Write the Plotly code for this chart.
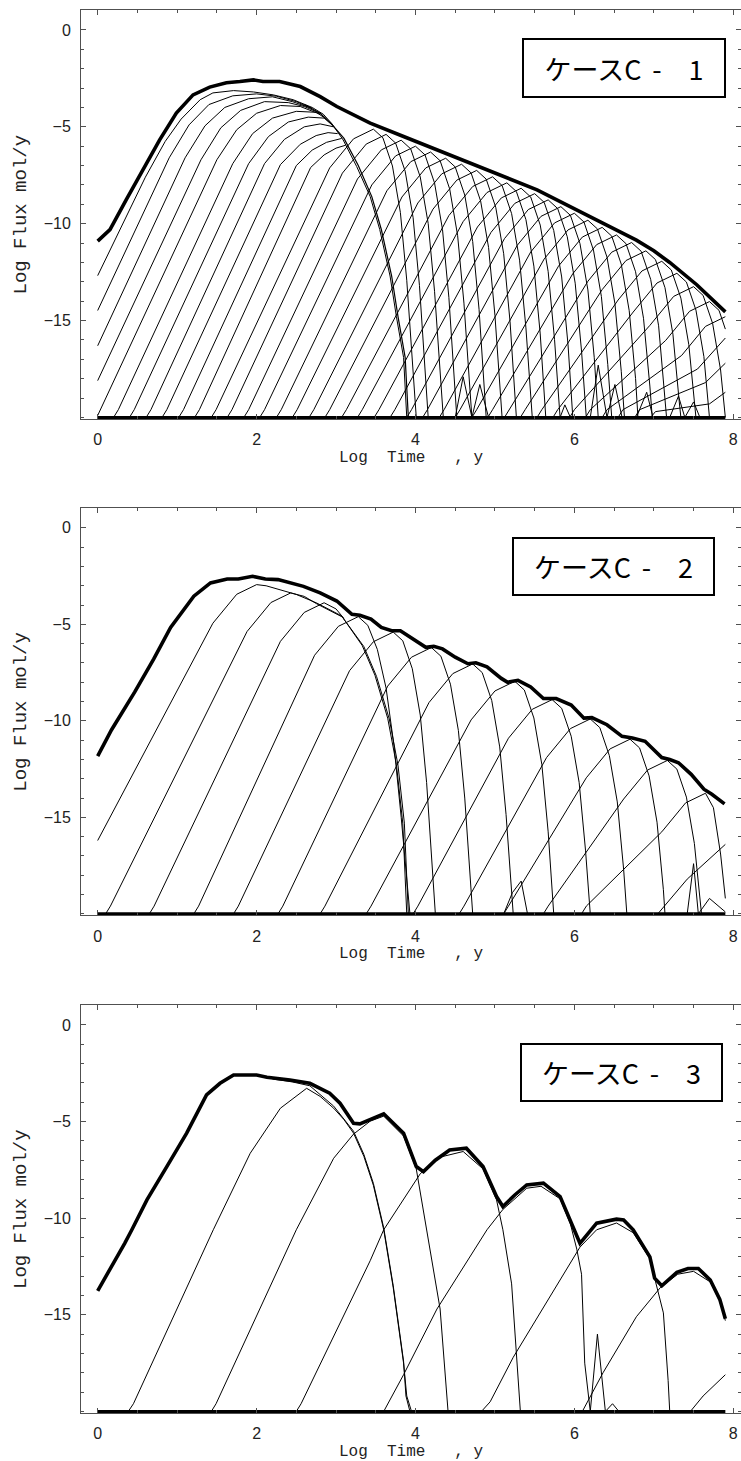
import plotly.graph_objects as go

# ---------------- Case C-1 ----------------
C1_TOTAL_X = [0, 0.155, 0.36, 0.57, 0.78, 0.99, 1.2, 1.41, 1.62, 1.79, 1.96, 2.08, 2.29, 2.55, 2.8, 3.01, 3.22,
              3.43, 3.85, 4.27, 4.69, 5.1, 5.53, 5.94, 6.36, 6.78, 7.0, 7.2, 7.54, 7.9]
C1_TOTAL_Y = [-10.9, -10.3, -8.76, -7.2, -5.67, -4.29, -3.35, -2.95, -2.72, -2.66, -2.58, -2.66, -2.66, -2.92,
              -3.44, -3.95, -4.38, -4.81, -5.5, -6.19, -6.87, -7.56, -8.25, -9.1, -9.97, -10.85, -11.4, -12.0,
              -13.15, -14.55]

C1_EARLY = [
    [(0, -12.68), (0.6, -7.6), (0.85, -5.75), (1.05, -4.6), (1.29, -3.6), (1.45, -3.25), (1.71, -3.13),
     (1.96, -3.2), (2.21, -3.35), (2.46, -3.6), (2.7, -4.0), (2.84, -4.35), (2.95, -4.85), (3.09, -5.68),
     (3.26, -7.05), (3.43, -8.6), (3.55, -10.3), (3.68, -12.7), (3.76, -14.8), (3.85, -16.9), (3.89, -20)],
    [(0, -14.48), (0.9, -6.6), (1.15, -4.9), (1.4, -3.85), (1.7, -3.4), (2.0, -3.3), (2.25, -3.42), (2.5, -3.7),
     (2.7, -4.05)],
    [(0, -16.3), (1.1, -6.6), (1.35, -4.95), (1.6, -4.0), (1.9, -3.55), (2.2, -3.45), (2.45, -3.7), (2.7, -4.05)],
    [(0, -18.1), (1.3, -6.7), (1.55, -5.05), (1.8, -4.15), (2.1, -3.7), (2.4, -3.75), (2.6, -3.95), (2.8, -4.3)],
    [(0, -19.9), (1.5, -6.7), (1.75, -5.15), (2.0, -4.3), (2.3, -3.9), (2.55, -3.95), (2.8, -4.35)],
    [(0.2, -20), (0.26, -19.6), (1.7, -6.9), (1.95, -5.35), (2.2, -4.55), (2.5, -4.2), (2.75, -4.25), (2.88, -4.6)],
    [(0.4, -20), (0.46, -19.6), (1.9, -6.9), (2.15, -5.5), (2.4, -4.75), (2.65, -4.5), (2.85, -4.55), (2.95, -4.9)],
    [(0.61, -20), (0.67, -19.6), (2.1, -6.9), (2.35, -5.65), (2.6, -5.0), (2.8, -4.85), (2.97, -5.0)],
    [(0.81, -20), (0.87, -19.6), (2.3, -6.95), (2.55, -5.9), (2.75, -5.45), (2.9, -5.3), (3.02, -5.35)],
    [(1.02, -20), (1.08, -19.6), (2.5, -7.0), (2.7, -6.2), (2.88, -5.8), (3.07, -5.6)],
    [(1.22, -20), (1.28, -19.6), (2.68, -7.1), (2.85, -6.45), (3.0, -6.1), (3.12, -5.95)],
]
C1_BUNDLE = [(2.6, -3.85), (2.8, -4.3), (2.93, -4.8), (3.1, -5.6), (3.28, -7.0), (3.45, -8.6), (3.57, -10.3),
             (3.7, -12.7), (3.78, -14.8), (3.87, -16.9), (3.91, -20)]

C1_MESH_A = [
    [(1.43, -20), (1.49, -19.6), (2.92, -7.12), (3.22, -5.62), (3.47, -5.12), (3.59, -5.57), (3.71, -7.02), (3.81, -9.42), (3.89, -12.92), (4.01, -20)],
    [(1.63, -20), (1.69, -19.6), (3.08, -7.39), (3.38, -5.89), (3.63, -5.39), (3.75, -5.84), (3.87, -7.29), (3.97, -9.69), (4.05, -13.19), (4.16, -20)],
    [(1.84, -20), (1.90, -19.6), (3.27, -7.69), (3.57, -6.19), (3.82, -5.69), (3.94, -6.14), (4.06, -7.59), (4.16, -9.99), (4.24, -13.49), (4.35, -20)],
    [(2.04, -20), (2.10, -19.6), (3.45, -8.0), (3.75, -6.5), (4.0, -6.0), (4.12, -6.45), (4.24, -7.9), (4.34, -10.3), (4.42, -13.8), (4.52, -20)],
    [(2.25, -20), (2.31, -19.6), (3.64, -8.3), (3.94, -6.8), (4.19, -6.3), (4.31, -6.75), (4.43, -8.2), (4.53, -10.6), (4.61, -14.1), (4.71, -20)],
    [(2.45, -20), (2.51, -19.6), (3.83, -8.62), (4.13, -7.12), (4.38, -6.62), (4.50, -7.07), (4.62, -8.52), (4.72, -10.92), (4.80, -14.42), (4.89, -20)],
    [(2.66, -20), (2.72, -19.6), (4.03, -8.93), (4.33, -7.43), (4.58, -6.93), (4.70, -7.38), (4.82, -8.83), (4.92, -11.23), (5.0, -14.73), (5.09, -20)],
    [(2.86, -20), (2.92, -19.6), (4.22, -9.25), (4.52, -7.75), (4.77, -7.25), (4.89, -7.7), (5.01, -9.15), (5.11, -11.55), (5.19, -15.05), (5.27, -20)],
    [(3.07, -20), (3.13, -19.6), (4.42, -9.58), (4.72, -8.08), (4.97, -7.58), (5.09, -8.03), (5.21, -9.48), (5.31, -11.88), (5.39, -15.38), (5.47, -20)],
    [(3.27, -20), (3.33, -19.6), (4.6, -9.89), (4.9, -8.39), (5.15, -7.89), (5.27, -8.34), (5.39, -9.79), (5.49, -12.19), (5.57, -15.69), (5.64, -20)],
    [(3.48, -20), (3.54, -19.6), (4.78, -10.17), (5.08, -8.67), (5.33, -8.17), (5.45, -8.62), (5.57, -10.07), (5.67, -12.47), (5.75, -15.97), (5.82, -20)],
    [(3.68, -20), (3.74, -19.6), (4.95, -10.45), (5.25, -8.95), (5.5, -8.45), (5.62, -8.9), (5.74, -10.35), (5.84, -12.75), (5.92, -16.25), (5.98, -20)],
]
C1_MESH_B = [
    [(3.89, -20), (3.95, -19.6), (5.12, -10.77), (5.42, -9.27), (5.67, -8.77), (5.79, -9.22), (5.91, -10.67), (6.01, -13.07), (6.09, -16.57), (6.15, -20)],
    [(4.09, -20), (4.15, -19.6), (5.28, -11.12), (5.58, -9.62), (5.83, -9.12), (5.95, -9.57), (6.07, -11.02), (6.17, -13.42), (6.25, -16.92), (6.30, -20)],
    [(4.3, -20), (4.36, -19.6), (5.45, -11.46), (5.75, -9.96), (6.0, -9.46), (6.12, -9.91), (6.24, -11.36), (6.34, -13.76), (6.42, -17.26), (6.47, -20)],
    [(4.5, -20), (4.56, -19.6), (5.62, -11.82), (5.92, -10.32), (6.17, -9.82), (6.29, -10.27), (6.41, -11.72), (6.51, -14.12), (6.59, -17.62), (6.63, -20)],
    [(4.71, -20), (4.77, -19.6), (5.8, -12.19), (6.1, -10.69), (6.35, -10.19), (6.47, -10.64), (6.59, -12.09), (6.69, -14.49), (6.77, -17.99), (6.80, -20)],
    [(4.91, -20), (4.97, -19.6), (5.98, -12.58), (6.28, -11.08), (6.53, -10.58), (6.65, -11.03), (6.77, -12.48), (6.87, -14.88), (6.95, -18.38), (6.98, -20)],
    [(5.12, -20), (5.18, -19.6), (6.17, -12.97), (6.47, -11.47), (6.72, -10.97), (6.84, -11.42), (6.96, -12.87), (7.06, -15.27), (7.14, -18.77), (7.16, -20)],
    [(5.32, -20), (5.38, -19.6), (6.35, -13.4), (6.65, -11.9), (6.9, -11.4), (7.02, -11.85), (7.14, -13.3), (7.24, -15.7), (7.32, -19.2), (7.34, -20)],
    [(5.53, -20), (5.59, -19.6), (6.55, -13.94), (6.85, -12.44), (7.1, -11.94), (7.22, -12.39), (7.34, -13.84), (7.44, -16.24), (7.53, -20)],
    [(5.73, -20), (5.79, -19.6), (6.74, -14.56), (7.04, -13.06), (7.29, -12.56), (7.41, -13.01), (7.53, -14.46), (7.63, -16.86), (7.70, -20)],
    [(5.94, -20), (6.0, -19.6), (6.95, -15.25), (7.25, -13.75), (7.5, -13.25), (7.62, -13.7), (7.74, -15.15), (7.84, -17.55), (7.9, -20)],
    [(6.14, -20), (6.2, -19.6), (7.15, -16.02), (7.45, -14.52), (7.7, -14.02), (7.82, -14.47), (7.9, -15.44)],
    [(6.35, -20), (6.41, -19.6), (7.35, -16.8), (7.65, -15.3), (7.9, -14.8)],
    [(6.55, -20), (6.61, -19.6), (7.55, -17.5), (7.9, -15.9)],
    [(6.76, -20), (6.82, -19.6), (7.65, -18.2), (7.9, -17.2)],
    [(6.96, -20), (7.02, -19.7), (7.7, -19.3), (7.9, -18.7)],
]
C1_SPIKES = [
    [(4.5, -20), (4.6, -17.9), (4.71, -20)], [(4.71, -20), (4.81, -18.3), (4.92, -20)],
    [(5.82, -20), (5.88, -19.35), (5.95, -20)], [(6.2, -20), (6.3, -17.3), (6.41, -20)],
    [(6.41, -20), (6.51, -18.3), (6.6, -20)], [(6.78, -20), (6.91, -18.7), (6.99, -20)],
    [(7.2, -20), (7.31, -18.9), (7.39, -20)], [(7.39, -20), (7.5, -19.2), (7.58, -20)],
]

# ---------------- Case C-2 ----------------
C2_TOTAL_X = [0, 0.175, 0.467, 0.706, 0.918, 1.21, 1.42, 1.63, 1.77, 1.95, 2.11, 2.27, 2.59, 2.8, 3.01, 3.2, 3.3,
              3.44, 3.57, 3.7, 3.81, 3.97, 4.13, 4.23, 4.34, 4.5, 4.66, 4.76, 4.9, 5.08, 5.16, 5.29, 5.45, 5.61,
              5.77, 5.96, 6.12, 6.22, 6.41, 6.6, 6.73, 6.89, 7.1, 7.2, 7.31, 7.47, 7.63, 7.73, 7.89]
C2_TOTAL_Y = [-11.83, -10.46, -8.5, -6.79, -5.16, -3.54, -2.85, -2.65, -2.65, -2.51, -2.65, -2.68, -3.03, -3.37,
              -3.79, -4.48, -4.53, -4.73, -5.16, -5.33, -5.33, -5.76, -6.19, -6.14, -6.27, -6.7, -7.04, -6.99,
              -7.2, -7.8, -8.0, -7.9, -8.24, -8.84, -8.84, -9.18, -9.86, -9.83, -10.2, -10.8, -10.89, -11.06,
              -11.9, -12.0, -12.17, -12.77, -13.54, -13.8, -14.3]

C2_CURVES = [
    [(0, -16.2), (1.45, -4.94), (1.75, -3.44), (2.0, -2.94), (2.12, -3.0), (2.3, -3.2), (2.5, -3.45), (2.75, -3.88),
     (3.07, -4.56), (3.33, -6.1), (3.49, -7.64), (3.65, -9.86), (3.76, -12.26), (3.84, -15.3), (3.89, -20)],
    [(0.1, -20), (0.16, -19.6), (1.88, -5.37), (2.18, -3.87), (2.43, -3.37), (2.6, -3.55), (2.75, -3.92),
     (3.08, -4.62), (3.35, -6.15), (3.51, -7.7), (3.67, -9.9), (3.78, -12.3), (3.86, -15.3), (3.91, -20)],
    [(0.65, -20), (0.71, -19.6), (2.3, -5.88), (2.6, -4.38), (2.85, -3.88), (3.0, -4.2), (3.1, -4.7)],
    [(1.21, -20), (1.27, -19.6), (2.73, -6.6), (3.03, -5.1), (3.28, -4.6), (3.4, -5.05), (3.52, -6.3), (3.63, -8.3),
     (3.73, -11.3), (3.82, -15), (3.93, -20)],
    [(1.71, -20), (1.77, -19.6), (3.17, -7.4), (3.47, -5.9), (3.72, -5.4), (3.84, -5.85), (3.96, -7.3), (4.06, -9.7), (4.14, -13.2), (4.25, -20)],
    [(2.27, -20), (2.33, -19.6), (3.65, -8.2), (3.95, -6.7), (4.2, -6.2), (4.32, -6.65), (4.44, -8.1), (4.54, -10.5), (4.62, -14.0), (4.72, -20)],
    [(2.8, -20), (2.86, -19.6), (4.17, -9.05), (4.47, -7.55), (4.72, -7.05), (4.84, -7.5), (4.96, -8.95), (5.06, -11.35), (5.14, -14.85), (5.23, -20)],
    [(3.38, -20), (3.44, -19.6), (4.7, -9.95), (5.0, -8.45), (5.25, -7.95), (5.37, -8.4), (5.49, -9.85), (5.59, -12.25), (5.67, -15.75), (5.74, -20)],
    [(3.97, -20), (4.03, -19.6), (5.17, -10.9), (5.47, -9.4), (5.72, -8.9), (5.84, -9.35), (5.96, -10.8), (6.06, -13.2), (6.14, -16.7), (6.2, -20)],
    [(4.55, -20), (4.61, -19.6), (5.65, -11.9), (5.95, -10.4), (6.2, -9.9), (6.32, -10.35), (6.44, -11.8), (6.54, -14.2), (6.62, -17.7), (6.66, -20)],
    [(5.11, -20), (5.17, -19.6), (6.15, -12.95), (6.45, -11.45), (6.7, -10.95), (6.82, -11.4), (6.94, -12.85), (7.04, -15.25), (7.12, -18.75), (7.14, -20)],
    [(5.61, -20), (5.67, -19.6), (6.62, -14.05), (6.92, -12.55), (7.17, -12.05), (7.29, -12.5), (7.41, -13.95), (7.51, -16.35), (7.6, -20)],
    [(6.09, -20), (6.15, -19.6), (7.1, -15.75), (7.4, -14.25), (7.65, -13.75), (7.75, -14.5), (7.84, -16.9), (7.9, -19.2)],
    [(7.05, -20), (7.42, -18.2), (7.9, -16.4)],
]
C2_SPIKES = [
    [(5.11, -20), (5.22, -18.9), (5.33, -18.3), (5.41, -20)],
    [(7.42, -20), (7.5, -17.4), (7.56, -20)],
    [(7.56, -20), (7.7, -19.2), (7.9, -19.9)],
]

# ---------------- Case C-3 ----------------
C3_TOTAL_X = [0, 0.155, 0.34, 0.43, 0.62, 0.87, 1.12, 1.37, 1.54, 1.71, 2.0, 2.13, 2.25, 2.42, 2.67, 2.92, 3.05,
              3.22, 3.3, 3.43, 3.6, 3.85, 4.01, 4.1, 4.25, 4.43, 4.64, 4.85, 5.02, 5.1, 5.25, 5.4, 5.61, 5.82,
              5.99, 6.07, 6.28, 6.53, 6.62, 6.74, 6.95, 7.01, 7.1, 7.29, 7.43, 7.56, 7.71, 7.83, 7.9]
C3_TOTAL_Y = [-13.76, -12.67, -11.3, -10.6, -9.05, -7.33, -5.6, -3.62, -3.02, -2.59, -2.59, -2.71, -2.76, -2.85,
              -3.02, -3.53, -4.05, -5.09, -5.12, -4.91, -4.6, -5.6, -7.33, -7.59, -7.0, -6.47, -6.38, -7.33,
              -8.88, -9.4, -8.8, -8.28, -8.19, -8.88, -10.6, -11.3, -10.26, -10.05, -10.09, -10.6, -12.0, -13.1,
              -13.5, -12.8, -12.6, -12.6, -13.2, -14.2, -15.2]

C3_CURVES = [
    [(2.2, -2.8), (2.45, -2.95), (2.67, -3.15), (2.97, -4.2), (3.22, -5.5), (3.35, -6.7), (3.47, -8.2),
     (3.6, -10.5), (3.72, -13.5), (3.8, -15.9), (3.85, -17.4), (3.88, -19.2), (3.93, -20)],
    [(0.385, -20), (0.45, -19.6), (1.455, -10.6), (1.92, -6.64), (2.3, -4.31), (2.63, -3.28), (2.8, -3.7),
     (2.97, -4.31), (3.1, -4.9), (3.22, -5.6), (3.35, -6.8), (3.47, -8.3), (3.6, -10.6), (3.72, -13.6),
     (3.8, -16.0), (3.85, -17.5), (3.89, -19.2), (3.95, -20)],
    [(1.43, -20), (1.49, -19.6), (2.5, -10.6), (2.97, -6.9), (3.22, -5.65), (3.43, -4.98), (3.6, -4.72),
     (3.85, -5.75), (4.01, -7.45), (4.14, -10.6), (4.31, -14.7), (4.41, -20)],
    [(2.5, -20), (2.56, -19.6), (3.43, -12.2), (3.6, -10.6), (4.06, -7.7), (4.3, -6.85), (4.6, -6.55),
     (4.85, -7.45), (5.02, -9.05), (5.1, -10.6), (5.21, -13.4), (5.25, -15.8), (5.32, -20)],
    [(3.6, -20), (3.85, -18.1), (4.27, -14.7), (4.9, -10.6), (5.1, -9.55), (5.4, -8.45), (5.58, -8.35),
     (5.82, -9.0), (5.95, -10.3), (6.03, -11.6), (6.09, -12.9), (6.13, -17.5), (6.2, -20)],
    [(4.83, -20), (4.94, -19.5), (5.23, -17.2), (5.82, -13.2), (6.07, -11.5), (6.28, -10.6), (6.53, -10.25),
     (6.74, -10.75), (6.95, -12.1), (7.01, -13.1), (7.12, -14.9), (7.18, -18.4), (7.2, -20)],
    [(6.1, -20), (6.36, -18.0), (6.78, -15.1), (7.08, -13.6), (7.3, -12.9), (7.5, -12.75), (7.71, -13.3),
     (7.83, -14.3), (7.9, -15.3)],
    [(7.46, -20), (7.62, -19.2), (7.9, -18.1)],
]
C3_SPIKES = [
    [(6.2, -20), (6.29, -16.0), (6.39, -20)],
    [(6.39, -20), (6.48, -19.6), (6.56, -20)],
]

FLOOR_X = [0, 7.9]
FLOOR_Y = [-20, -20]

X_TICKS = [0, 2, 4, 6, 8]
Y_TICKS = [0, -5, -10, -15]
CASE_LABELS = ["ケースC\u2009\u2009-\u30001", "ケースC\u2009\u2009-\u30002", "ケースC\u2009\u2009-\u30003"]

W, H = 741, 1461
PANELS_PX = [(10, 419), (508, 915.4), (1005, 1413)]   # top / bottom pixel rows of each frame
BOX_PX = [(522, 726, 38, 98), (512, 715, 537, 596), (520, 723, 1043, 1102)]


def flat(curves):
    xs, ys = [], []
    for c in curves:
        xs += [p[0] for p in c] + [None]
        ys += [p[1] for p in c] + [None]
    return xs, ys


fig = go.Figure()

panels = [
    (C1_TOTAL_X, C1_TOTAL_Y, C1_EARLY + C1_MESH_A + C1_MESH_B + C1_SPIKES, [C1_BUNDLE]),
    (C2_TOTAL_X, C2_TOTAL_Y, C2_CURVES + C2_SPIKES, []),
    (C3_TOTAL_X, C3_TOTAL_Y, C3_CURVES + C3_SPIKES, []),
]

for i, (tx, ty, thin, bundle) in enumerate(panels):
    sfx = "" if i == 0 else str(i + 1)
    xr, yr = "x" + sfx, "y" + sfx
    xs, ys = flat(thin)
    fig.add_trace(go.Scatter(x=xs, y=ys, mode="lines", line=dict(color="black", width=1.0),
                             xaxis=xr, yaxis=yr, showlegend=False, hoverinfo="skip"))
    if bundle:
        bx, by = flat(bundle)
        fig.add_trace(go.Scatter(x=bx, y=by, mode="lines", line=dict(color="black", width=1.2),
                                 xaxis=xr, yaxis=yr, showlegend=False, hoverinfo="skip"))
    fig.add_trace(go.Scatter(x=FLOOR_X, y=FLOOR_Y, mode="lines", line=dict(color="black", width=3),
                             xaxis=xr, yaxis=yr, showlegend=False, hoverinfo="skip"))
    fig.add_trace(go.Scatter(x=tx, y=ty, mode="lines", line=dict(color="black", width=3.6),
                             xaxis=xr, yaxis=yr, showlegend=False, hoverinfo="skip"))

axcol = "#505050"
tickfont = dict(family="Liberation Sans, Arial, sans-serif", size=16, color="#222")
x0 = 81 / W
for i, (top, bot) in enumerate(PANELS_PX):
    sfx = "" if i == 0 else str(i + 1)
    dom = [1 - bot / H, 1 - top / H]
    fig.layout["xaxis" + sfx] = dict(
        domain=[x0, 1], range=[-0.21, 8.097], anchor="y" + sfx,
        tickmode="array", tickvals=X_TICKS, ticks="inside", ticklen=5, tickcolor=axcol,
        showline=True, linecolor=axcol, linewidth=1, mirror="ticks",
        showgrid=False, zeroline=False, tickfont=tickfont, ticklabelstandoff=6,
        minor=dict(tickmode="linear", tick0=0, dtick=0.5, ticks="inside", ticklen=3, tickcolor=axcol, showgrid=False),
    )
    fig.layout["yaxis" + sfx] = dict(
        domain=dom, range=[-20.08, 1.03], anchor="x" + sfx,
        tickmode="array", tickvals=Y_TICKS, ticks="inside", ticklen=5, tickcolor=axcol,
        showline=True, linecolor=axcol, linewidth=1, mirror="ticks",
        showgrid=False, zeroline=False, tickfont=tickfont, ticklabelstandoff=6,
        minor=dict(tickmode="linear", tick0=0, dtick=1, ticks="inside", ticklen=3, tickcolor=axcol, showgrid=False),
    )

annotations = []
mono = "Courier New, Liberation Mono, monospace"
for i, (top, bot) in enumerate(PANELS_PX):
    annotations.append(dict(text="Log\u00a0\u00a0Time\u00a0\u00a0\u00a0,\u00a0y", xref="paper", yref="paper",
                            x=(81 + W) / 2 / W, y=1 - (bot + 39) / H, xanchor="center", yanchor="middle",
                            showarrow=False, font=dict(family=mono, size=16, color="#222")))
    annotations.append(dict(text="Log\u00a0Flux\u00a0mol/y", xref="paper", yref="paper",
                            x=21 / W, y=1 - (top + bot) / 2 / H, xanchor="center", yanchor="middle",
                            textangle=-90, showarrow=False, font=dict(family=mono, size=19, color="#222")))
    l, r, t, b = BOX_PX[i]
    annotations.append(dict(text=CASE_LABELS[i], xref="paper", yref="paper",
                            x=(l + r) / 2 / W, y=1 - (t + b) / 2 / H, xanchor="center", yanchor="middle",
                            showarrow=False, width=r - l - 4, height=b - t - 4,
                            bordercolor="black", borderwidth=2, borderpad=0, bgcolor="white",
                            font=dict(family="Noto Sans CJK JP", size=27, color="black")))

fig.update_layout(width=W, height=H, margin=dict(l=0, r=0, t=0, b=0),
                  paper_bgcolor="white", plot_bgcolor="white", annotations=annotations,
                  showlegend=False)

fig.write_html("out.html")
